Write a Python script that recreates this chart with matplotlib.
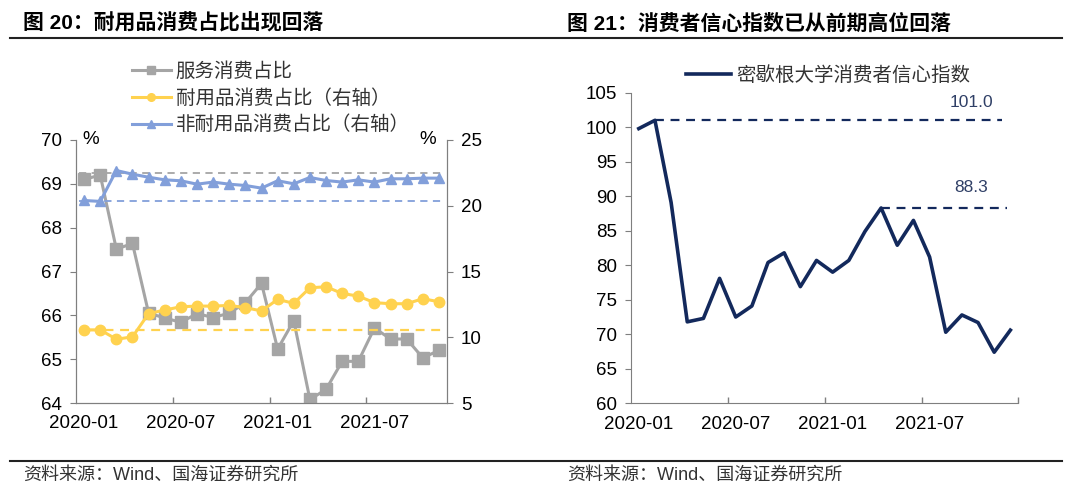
import matplotlib
matplotlib.use('Agg')
import matplotlib.pyplot as plt
from matplotlib.lines import Line2D
import numpy as np

plt.rcParams['font.family'] = ['Liberation Sans', 'Noto Sans CJK SC']
plt.rcParams['axes.unicode_minus'] = False

# ---- data ----
months = ['2020-01', '2020-02', '2020-03', '2020-04', '2020-05', '2020-06',
          '2020-07', '2020-08', '2020-09', '2020-10', '2020-11', '2020-12',
          '2021-01', '2021-02', '2021-03', '2021-04', '2021-05', '2021-06',
          '2021-07', '2021-08', '2021-09', '2021-10', '2021-11', '2021-12']

# fig 20 (2020-01 .. 2021-11)
services = [69.10, 69.20, 67.51, 67.64, 66.05, 65.94, 65.84, 66.04, 65.95, 66.05,
            66.29, 66.73, 65.23, 65.88, 64.08, 64.31, 64.95, 64.95, 65.71, 65.46,
            65.46, 65.03, 65.20]
durable = [10.56, 10.56, 9.85, 10.03, 11.80, 12.07, 12.32, 12.37, 12.37, 12.42,
           12.25, 12.00, 12.88, 12.58, 13.76, 13.84, 13.33, 13.13, 12.63, 12.55,
           12.55, 12.93, 12.70]
nondurable = [20.40, 20.33, 22.68, 22.40, 22.17, 21.97, 21.90, 21.64, 21.80, 21.64,
              21.54, 21.34, 21.90, 21.67, 22.15, 21.92, 21.80, 21.97, 21.80, 22.05,
              22.05, 22.10, 22.10]
services_ref = 69.25
durable_ref = 10.56
nondurable_ref = 20.33

# fig 21 (2020-01 .. 2021-12)
sentiment = [99.8, 101.0, 89.1, 71.8, 72.3, 78.1, 72.5, 74.1, 80.4, 81.8, 76.9, 80.7,
             79.0, 80.7, 84.9, 88.3, 82.9, 86.5, 81.2, 70.3, 72.8, 71.7, 67.4, 70.6]
peak_idx = [1, 15]
peak_val = [101.0, 88.3]

GRAY = '#A5A5A5'
YELLOW = '#FFD24F'
BLUE = '#829FDA'
NAVY = '#13295C'
AXC = '#7F7F7F'
FS = 13.5

fig = plt.figure(figsize=(10.8, 5), dpi=100)


def style_xaxis(ax, n):
    ax.set_xlim(-0.5, n - 0.5)
    ax.set_xticks(range(0, n, 6))
    ax.set_xticklabels([months[i] for i in range(0, n, 6)])
    ax.set_xticks(np.arange(5.5, n, 6), minor=True)
    ax.tick_params(axis='x', which='major', length=0, pad=9, labelsize=FS)
    ax.tick_params(axis='x', which='minor', direction='in', length=4.5,
                   width=1, color=AXC)


# ---------------- left chart ----------------
ax1 = fig.add_axes([0.0704, 0.194, 0.3435, 0.526])
ax1r = ax1.twinx()
x1 = np.arange(len(services))

ax1.hlines(services_ref, -0.3, 22.3, colors=GRAY, linestyles=(0, (4, 3)), lw=1.3)
ax1.plot(x1, services, color=GRAY, lw=2.2, marker='s', ms=8, zorder=3)
ax1r.hlines(nondurable_ref, -0.3, 22.3, colors=BLUE, linestyles=(0, (4, 3)), lw=1.3)
ax1r.hlines(durable_ref, 0.3, 22.3, colors=YELLOW, linestyles=(0, (4, 3)), lw=1.6)
ax1r.plot(x1, durable, color=YELLOW, lw=2.2, marker='o', ms=7.5, zorder=3)
ax1r.plot(x1, nondurable, color=BLUE, lw=2.2, marker='^', ms=7.5, zorder=3)

ax1.set_ylim(64, 70)
ax1.set_yticks(range(64, 71))
ax1r.set_ylim(5, 25)
ax1r.set_yticks(range(5, 26, 5))
style_xaxis(ax1, len(services))
for a in (ax1, ax1r):
    a.spines['top'].set_visible(False)
    for s in ('left', 'right', 'bottom'):
        a.spines[s].set_color(AXC)
    a.tick_params(axis='y', direction='out', length=4, color=AXC, labelsize=FS, pad=6)
ax1.text(0.04, 1.0, '%', transform=ax1.transAxes, ha='center', va='center', fontsize=FS)
ax1.text(0.949, 1.0, '%', transform=ax1.transAxes, ha='center', va='center', fontsize=FS)

h1 = [Line2D([], [], color=GRAY, lw=2.2, marker='s', ms=6),
      Line2D([], [], color=YELLOW, lw=2.2, marker='o', ms=5.5),
      Line2D([], [], color=BLUE, lw=2.2, marker='^', ms=5.5)]
fig.legend(h1, ['服务消费占比', '耐用品消费占比（右轴）', '非耐用品消费占比（右轴）'],
           loc='upper left', bbox_to_anchor=(0.113, 0.898), frameon=False,
           handlelength=2.0, handletextpad=0.25, labelspacing=0.3, borderpad=0,
           prop={'family': 'Noto Sans CJK SC', 'size': 14}, labelcolor='#333333')

# ---------------- right chart ----------------
ax2 = fig.add_axes([0.584, 0.1934, 0.359, 0.6212])
x2 = np.arange(len(sentiment))
ax2.plot(x2, sentiment, color=NAVY, lw=2.6, zorder=3)
ax2.hlines(peak_val[0], peak_idx[0], 22.5, colors=NAVY, linestyles=(0, (4, 3)), lw=1.6)
ax2.hlines(peak_val[1], peak_idx[1], 22.8, colors=NAVY, linestyles=(0, (4, 3)), lw=1.6)
for v, yy in zip(peak_val, [103.6, 91.2]):
    ax2.text(20.6, yy, f'{v:.1f}', color='#2F3F66', fontsize=12.5, ha='center', va='center')
ax2.set_ylim(60, 105)
ax2.set_yticks(range(60, 106, 5))
style_xaxis(ax2, len(sentiment))
for s in ('top', 'right'):
    ax2.spines[s].set_visible(False)
for s in ('left', 'bottom'):
    ax2.spines[s].set_color(AXC)
ax2.tick_params(axis='y', direction='out', length=4, color=AXC, labelsize=FS, pad=6)
ax2.legend([Line2D([], [], color=NAVY, lw=2.6)], ['密歇根大学消费者信心指数'],
           loc='upper left', bbox_to_anchor=(0.626, 0.89), bbox_transform=fig.transFigure,
           frameon=False, handlelength=2.3, handletextpad=0.3, borderpad=0,
           prop={'family': 'Noto Sans CJK SC', 'size': 14}, labelcolor='#333333')

# ---------------- titles, rules, sources ----------------
fig.text(0.021, 0.953, '图 20：耐用品消费占比出现回落', fontsize=15, fontweight='bold',
         ha='left', va='center')
fig.text(0.525, 0.953, '图 21：消费者信心指数已从前期高位回落', fontsize=15, fontweight='bold',
         ha='left', va='center')
fig.add_artist(Line2D([0.009, 0.983], [0.925, 0.925], color='#222222', lw=1.5))
fig.add_artist(Line2D([0.009, 0.983], [0.078, 0.078], color='#222222', lw=1.5))
fig.text(0.021, 0.05, '资料来源：Wind、国海证券研究所', fontsize=13, color='#333333',
         ha='left', va='center')
fig.text(0.525, 0.05, '资料来源：Wind、国海证券研究所', fontsize=13, color='#333333',
         ha='left', va='center')

fig.savefig('out.png', dpi=100)
